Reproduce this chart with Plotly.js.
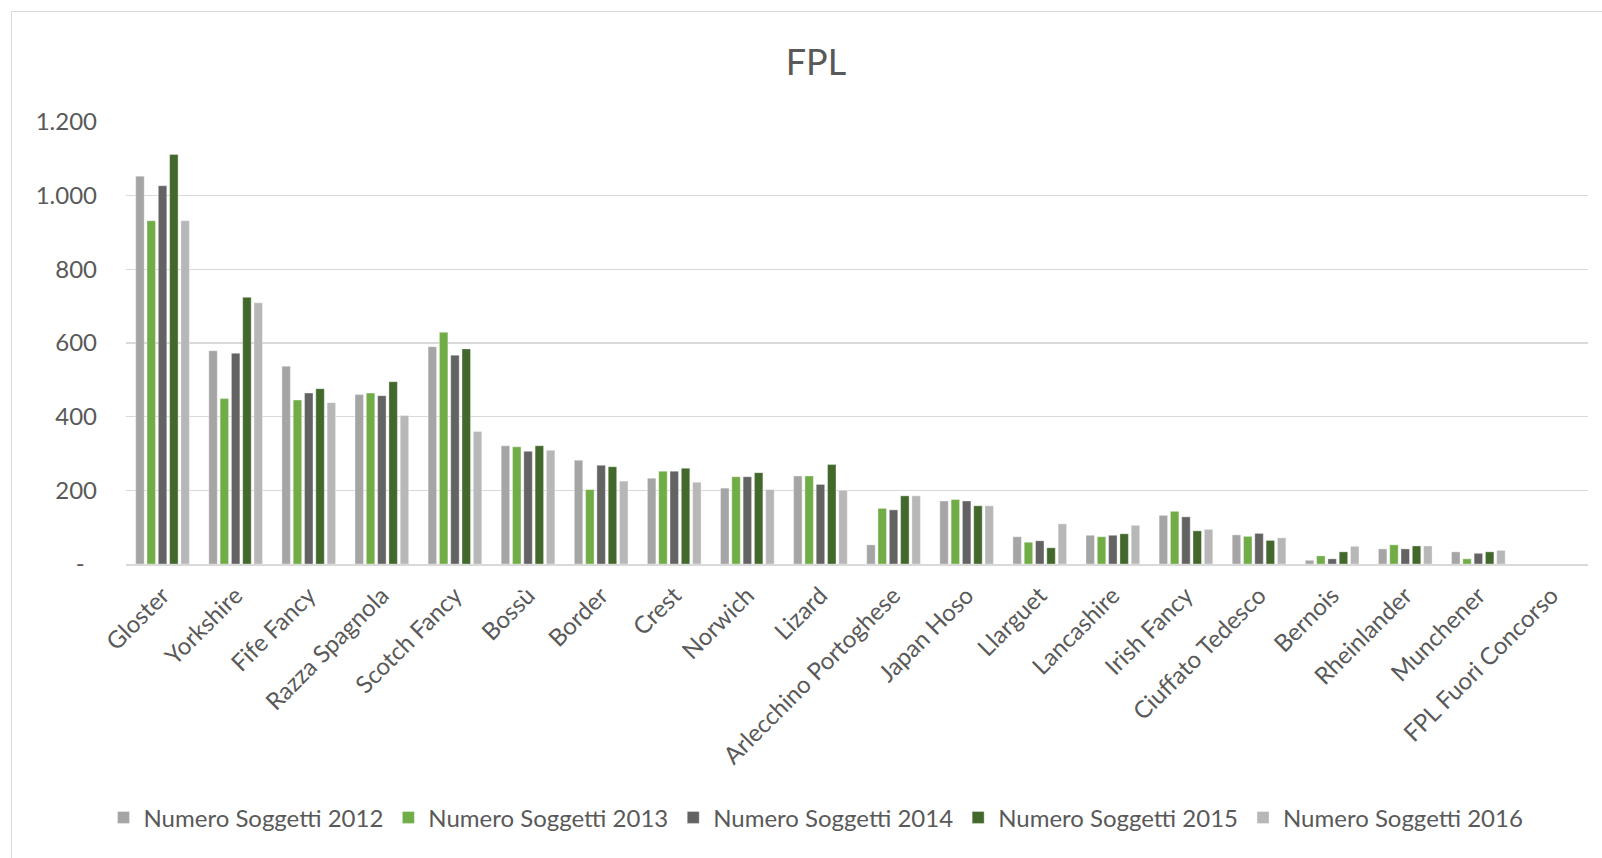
<!DOCTYPE html>
<html>
<head>
<meta charset="utf-8">
<script src="https://cdn.plot.ly/plotly-3.0.1.min.js"></script>
<style>
  html, body { margin: 0; padding: 0; background: #ffffff; overflow: hidden; }
  #wrap { position: relative; width: 1602px; height: 858px; }
  #chart { position: absolute; left: 0; top: 0; width: 1602px; height: 858px; }
  #frame { position: absolute; left: 11px; top: 11px; width: 1620px; height: 900px;
           border: 1.5px solid #d9d9d9; pointer-events: none; }
</style>
</head>
<body>
<div id="wrap">
  <div id="chart"></div>
  <div id="frame"></div>
</div>
<script>
const categories = ["Gloster", "Yorkshire", "Fife Fancy", "Razza Spagnola", "Scotch Fancy", "Bossù",
  "Border", "Crest", "Norwich", "Lizard", "Arlecchino Portoghese", "Japan Hoso", "Llarguet",
  "Lancashire", "Irish Fancy", "Ciuffato Tedesco", "Bernois", "Rheinlander", "Munchener",
  "FPL Fuori Concorso"];

const seriesNames = ["Numero Soggetti 2012", "Numero Soggetti 2013", "Numero Soggetti 2014",
  "Numero Soggetti 2015", "Numero Soggetti 2016"];

const soggetti2012 = [1053, 579, 537, 460, 590, 321, 282, 233, 206, 239, 52, 171, 74, 78, 132, 79, 10, 41, 33, 0];
const soggetti2013 = [932, 449, 445, 464, 629, 318, 202, 252, 237, 239, 151, 175, 59, 74, 143, 75, 22, 52, 14, 0];
const soggetti2014 = [1027, 572, 464, 457, 567, 306, 268, 252, 237, 216, 147, 171, 63, 78, 128, 83, 14, 41, 29, 0];
const soggetti2015 = [1112, 724, 476, 495, 584, 321, 264, 260, 248, 270, 185, 158, 44, 82, 90, 64, 33, 49, 33, 0];
const soggetti2016 = [932, 709, 438, 403, 360, 309, 225, 222, 202, 200, 185, 158, 109, 105, 94, 71, 48, 49, 37, 0];

const yTickVals = [0, 200, 400, 600, 800, 1000, 1200];
const yTickText = ["-\u00a0\u00a0", "200", "400", "600", "800", "1.000", "1.200"];

const colors = ["#a5a5a5", "#70ad47", "#636363", "#43682b", "#b7b7b7"];
const allSeries = [soggetti2012, soggetti2013, soggetti2014, soggetti2015, soggetti2016];

const FONT = "Lato, 'Noto Sans', sans-serif";
const TXT = "#595959";

const traces = allSeries.map((vals, i) => ({
  type: "bar",
  name: seriesNames[i],
  x: categories,
  y: vals,
  marker: { color: colors[i], line: { color: "rgba(255,255,255,0.6)", width: 0.6 } },
  hoverinfo: "x+y+name"
}));

const layout = {
  width: 1602,
  height: 858,
  paper_bgcolor: "rgba(0,0,0,0)",
  plot_bgcolor: "#ffffff",
  margin: { l: 126, r: 14, t: 122, b: 294 },
  barmode: "group",
  bargap: 0.227,
  bargroupgap: 0.25,
  font: { family: FONT, color: TXT, size: 24 },
  title: {
    text: "FPL",
    font: { family: FONT, size: 36, color: TXT },
    x: 816 / 1602, xref: "container", xanchor: "center",
    y: 1 - 62 / 858, yref: "container", yanchor: "middle"
  },
  xaxis: {
    type: "category",
    tickangle: -45,
    ticks: "",
    showgrid: false,
    showline: true,
    linecolor: "#d9d9d9",
    linewidth: 2,
    tickfont: { family: FONT, size: 24, color: TXT },
    ticklabelstandoff: 6,
    zeroline: false
  },
  yaxis: {
    range: [0, 1200],
    tickvals: yTickVals,
    ticktext: yTickText,
    ticks: "",
    showgrid: true,
    gridcolor: "#d9d9d9",
    gridwidth: 1.5,
    zeroline: false,
    showline: false,
    tickfont: { family: FONT, size: 24, color: TXT },
    ticklabelstandoff: 28
  },
  legend: {
    orientation: "h",
    x: (816 - 126) / 1462,
    xanchor: "center",
    y: -(818 - 564) / 442.3,
    yanchor: "middle",
    font: { family: FONT, size: 24, color: TXT },
    itemclick: false,
    itemdoubleclick: false,
    traceorder: "normal"
  },
  showlegend: true
};

Plotly.newPlot("chart", traces, layout, { displayModeBar: false, staticPlot: true });
</script>
</body>
</html>
